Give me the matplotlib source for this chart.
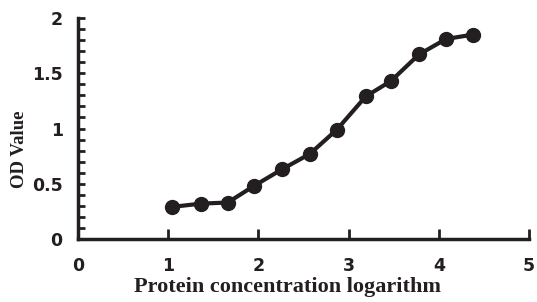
import matplotlib
matplotlib.use("Agg")
import matplotlib.pyplot as plt
from matplotlib.ticker import MultipleLocator

x_log = [1.04, 1.36, 1.66, 1.95, 2.26, 2.57, 2.87, 3.19, 3.47, 3.78, 4.08, 4.38]
od_values = [0.29, 0.32, 0.33, 0.48, 0.63, 0.77, 0.99, 1.29, 1.43, 1.67, 1.81, 1.85]
x_ticks = [0, 1, 2, 3, 4, 5]
y_ticks = [0, 0.5, 1, 1.5, 2]
y_tick_labels = ["0", "0.5", "1", "1.5", "2"]

col = "#231f20"
fig = plt.figure(figsize=(5.37, 3.02), dpi=100)
L, R, T, B = 78, 529, 18, 239
ax = fig.add_axes([L / 537, 1 - B / 302, (R - L) / 537, (B - T) / 302])
ax.plot(x_log, od_values, color=col, lw=3, marker="o", ms=10, mfc=col, mec=col, clip_on=False)
ax.set_xlim(0, 5)
ax.set_ylim(0, 2)
ax.set_xticks(x_ticks)
ax.set_yticks(y_ticks)
ax.set_yticklabels(y_tick_labels)
ax.yaxis.set_minor_locator(MultipleLocator(0.1))
for s in ["top", "right"]:
    ax.spines[s].set_visible(False)
for s in ["left", "bottom"]:
    ax.spines[s].set_linewidth(2.5)
    ax.spines[s].set_color(col)
ax.tick_params(axis="x", direction="in", length=7, width=2, colors=col, pad=13)
ax.tick_params(axis="y", which="both", direction="in", length=5, width=2, colors=col, pad=11)
for lab in ax.get_xticklabels() + ax.get_yticklabels():
    lab.set_fontfamily("DejaVu Sans")
    lab.set_fontweight("bold")
    lab.set_fontsize(12.5)
    lab.set_color(col)
ax.set_xlabel("Protein concentration logarithm", fontfamily="Liberation Serif", fontweight="bold", fontsize=16, color=col)
ax.xaxis.label.set_va("center")
ax.xaxis.set_label_coords((288 - L) / (R - L), (B - 287) / (B - T))
ax.set_ylabel("OD Value", fontfamily="Liberation Serif", fontweight="bold", fontsize=13.5, color=col)
ax.yaxis.label.set_va("center")
ax.yaxis.set_label_coords((19 - L) / (R - L), (B - 149) / (B - T))
fig.savefig("out.png", dpi=100)
